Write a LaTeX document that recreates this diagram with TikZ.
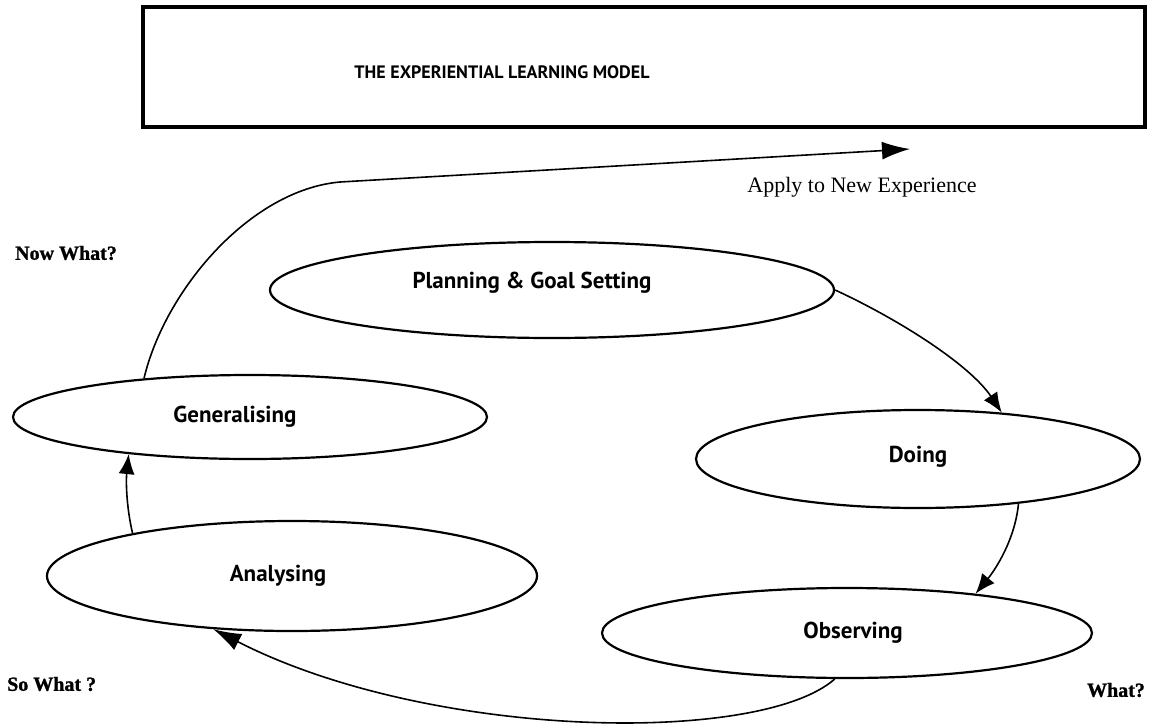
\documentclass[tikz,border=0pt]{standalone}
\usepackage{fontspec}
\setmainfont{Liberation Serif}
\newfontfamily\lblfont{PT Sans}
\newfontfamily\qfont[FakeBold=1.2]{Liberation Serif Bold}
\usetikzlibrary{shapes.geometric,arrows.meta}
\tikzset{
  stage/.style={draw, line width=2.2pt, ellipse, inner sep=0pt},
  stagetext/.style={font=\lblfont\bfseries\fontsize{23}{25}\selectfont, inner sep=0pt},
  flow/.style={line width=1.6pt, -{Latex[length=20pt,width=16pt]}},
  bigflow/.style={line width=1.6pt, -{Latex[length=28pt,width=18pt]}},
  question/.style={font=\qfont\fontsize{20}{22}\selectfont, inner sep=0pt},
}
\begin{document}
\begin{tikzpicture}[x=1pt,y=-1pt]
\useasboundingbox (0,0) rectangle (1149,726);
\node[draw, line width=3.2pt, minimum width=1002pt, minimum height=120pt, inner sep=0pt] (title) at (644,67) {};
\node[font=\lblfont\bfseries\fontsize{18}{20}\selectfont, inner sep=0pt] (titletext) at (502,72) {THE EXPERIENTIAL LEARNING MODEL};

\node[stage, minimum width=564pt, minimum height=96pt,
  label={[stagetext, xshift=-20pt, yshift=7pt]center:Planning \& Goal Setting}] (plan) at (552,290) {};
\node[stage, minimum width=474pt, minimum height=84pt,
  label={[stagetext, xshift=-15pt]center:Generalising}] (gen) at (250,417) {};
\node[stage, minimum width=444pt, minimum height=98pt,
  label={[stagetext, yshift=2pt]center:Doing}] (doing) at (918,459) {};
\node[stage, minimum width=490pt, minimum height=110pt,
  label={[stagetext, xshift=-14pt]center:Analysing}] (ana) at (292,576) {};
\node[stage, minimum width=490pt, minimum height=90pt,
  label={[stagetext, xshift=6pt]center:Observing}] (obs) at (847,633) {};

\node[font=\fontsize{22}{24}\selectfont, inner sep=0pt] (apply) at (862,187) {Apply to New Experience};
\node[question, anchor=west] (now) at (15,253) {Now What?};
\node[question, anchor=west] (so) at (7,684) {So What ?};
\node[question] (what) at (1116,690) {What?};

\coordinate (applyend) at (910,149);
\draw[bigflow] (gen.160) .. controls (165,290) and (250,190) .. (340,182) -- (applyend);
\draw[flow] (plan.east) .. controls (900,320) and (970,365) .. (doing.29);
\draw[flow] (doing.336) .. controls (1015,540) and (995,570) .. (obs.17);
\draw[bigflow] (obs.255) .. controls (760,745) and (430,740) .. (ana.214);
\draw[flow] (ana.165) .. controls (126,505) and (126,480) .. (gen.197);
\end{tikzpicture}
\end{document}
